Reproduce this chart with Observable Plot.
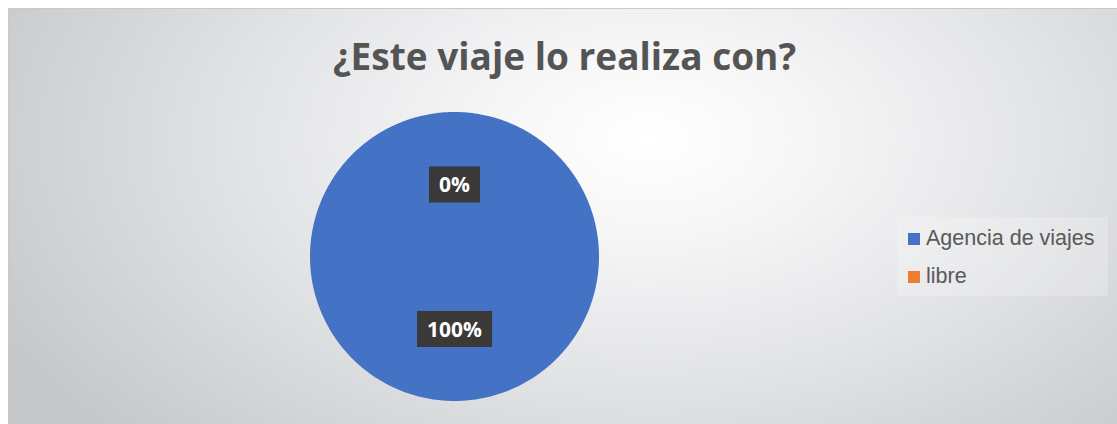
<!DOCTYPE html>
<html>
<head>
<meta charset="utf-8">
<script src="https://cdn.jsdelivr.net/npm/d3@7"></script>
<script src="https://cdn.jsdelivr.net/npm/@observablehq/plot@0.6"></script>
<style>
  html, body { margin: 0; padding: 0; background: #ffffff; overflow: hidden; }
  body { width: 1117px; height: 424px; position: relative; }
  #frame {
    position: absolute; left: 8px; top: 8px; width: 1120px; height: 420px;
    border-top: 1px solid #c9c9cb; border-left: 1px solid #c9c9cb;
    background: radial-gradient(ellipse 720px 430px at 640px 130px, #ffffff 0%, #f6f6f7 22%, #e3e4e6 55%, #c7c8cb 100%);
    overflow: hidden;
  }
  #title {
    position: absolute; left: 0; width: 1111px; top: 20.5px; text-align: center;
    font-family: "Open Sans", sans-serif; font-weight: 700; font-size: 37px;
    color: #545454; white-space: nowrap; line-height: normal;
  }
  #chart { position: absolute; left: 0; top: 0; }
  #legend {
    position: absolute; left: 888px; top: 208px; width: 211px; height: 79px;
    background: rgba(255,255,255,0.22);
    font-family: "Liberation Sans", Arial, sans-serif; font-size: 21.5px; color: #595959;
  }
  .item { position: absolute; left: 11px; height: 22px; line-height: 22px; white-space: nowrap; }
  .sw { display: inline-block; width: 12px; height: 12px; margin-right: 6px; vertical-align: 0px; }
</style>
</head>
<body>
<div id="frame">
  <div id="chart"></div>
  <div id="title"></div>
  <div id="legend"></div>
</div>
<script>
// ---- data ----
const titleText = "¿Este viaje lo realiza con?";
const categories = ["Agencia de viajes", "libre"];
const values = [100, 0];
const labels = ["100%", "0%"];
const colors = ["#4472C4", "#ED7D31"];

document.getElementById("title").textContent = titleText;

// pie angles from data (clockwise from top)
const arcs = d3.pie().sort(null).startAngle(0).endAngle(2 * Math.PI)(values);
const slicePts = [];
arcs.forEach((a, i) => {
  const cat = categories[i];
  slicePts.push({cat, x: 0, y: 0});
  const n = Math.max(1, Math.ceil((a.endAngle - a.startAngle) / (Math.PI / 180)));
  for (let k = 0; k <= n; k++) {
    const t = a.startAngle + (a.endAngle - a.startAngle) * k / n;
    slicePts.push({cat, x: Math.sin(t), y: Math.cos(t)});
  }
  slicePts.push({cat, x: 0, y: 0});
});
const labelPts = arcs.map((a, i) => {
  const m = (a.startAngle + a.endAngle) / 2;
  return {label: labels[i], x: 0.5 * Math.sin(m), y: 0.5 * Math.cos(m)};
});

const cx = 445, cy = 247, R = 144.5;
const plot = Plot.plot({
  width: 1110, height: 416,
  x: {domain: [-1, 1], range: [cx - R, cx + R], axis: null},
  y: {domain: [-1, 1], range: [cy + R, cy - R], axis: null},
  color: {domain: categories, range: colors},
  style: {background: "transparent", overflow: "visible"},
  marks: [
    Plot.line(slicePts, {x: "x", y: "y", z: "cat", fill: "cat", stroke: "none", curve: "linear"}),
    Plot.text(labelPts, {x: "x", y: "y", text: "label", fill: "white", fontSize: 21, dy: 1.5,
      fontWeight: "bold", fontFamily: "'Open Sans', sans-serif", className: "plabel"})
  ]
});
document.getElementById("chart").appendChild(plot);

// dark boxes behind data labels (measured from the rendered text)
const sr = plot.getBoundingClientRect();
plot.querySelectorAll("g.plabel text").forEach(t => {
  const b = t.getBoundingClientRect();
  const r = document.createElementNS("http://www.w3.org/2000/svg", "rect");
  r.setAttribute("x", b.left - sr.left - 10);
  r.setAttribute("y", b.top - sr.top - 4);
  r.setAttribute("width", b.width + 20);
  r.setAttribute("height", b.height + 8);
  r.setAttribute("fill", "#3b3838");
  t.parentNode.insertBefore(r, t);
});
const g = plot.querySelector("g.plabel");
if (g && g.getAttribute("transform")) {
  g.querySelectorAll("rect").forEach(r => {
    const m = g.getAttribute("transform").match(/translate\(([-\d.]+),?\s*([-\d.]+)?\)/);
    if (m) {
      r.setAttribute("x", +r.getAttribute("x") - +m[1]);
      r.setAttribute("y", +r.getAttribute("y") - +(m[2] || 0));
    }
  });
}

// legend
const lg = document.getElementById("legend");
categories.forEach((c, i) => {
  const d = document.createElement("div");
  d.className = "item";
  d.style.top = (9.5 + i * 38) + "px";
  d.innerHTML = `<span class="sw" style="background:${colors[i]}"></span>${c}`;
  lg.appendChild(d);
});
</script>
</body>
</html>
